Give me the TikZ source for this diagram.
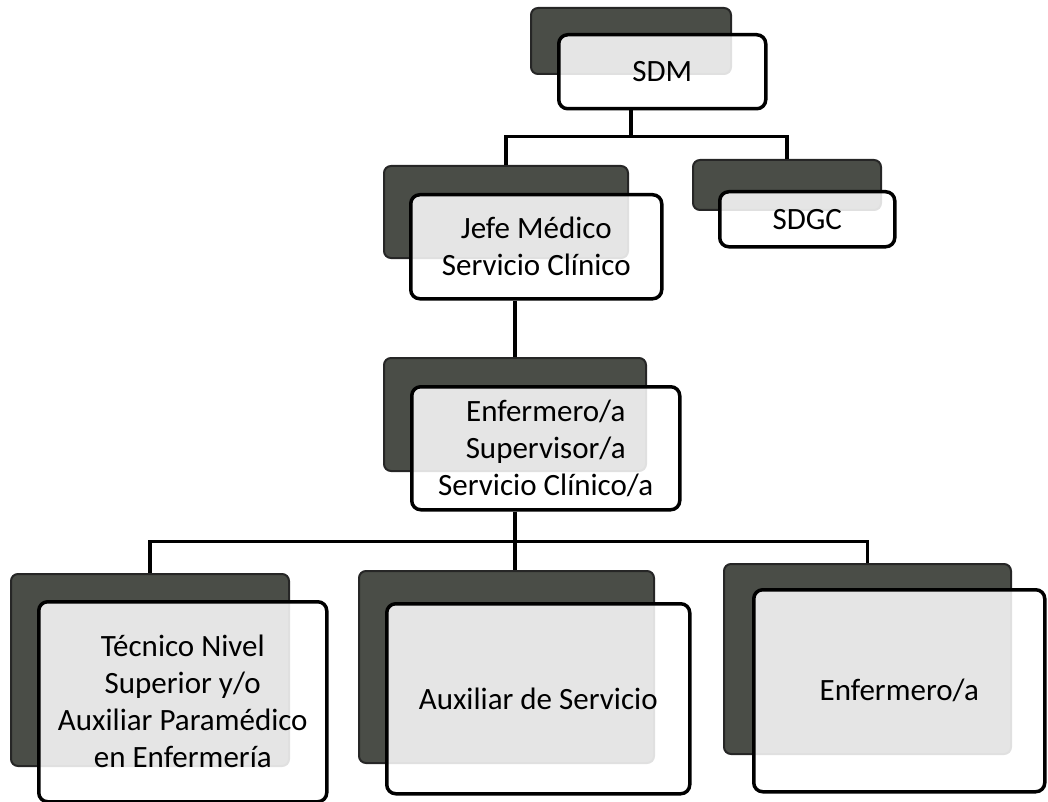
\documentclass[tikz,border=0pt]{standalone}
\usepackage{fontspec}
\setmainfont{Carlito}
\usepackage{tikz}
\definecolor{backgrey}{RGB}{74,77,71}
\begin{document}
\begin{tikzpicture}[x=1pt,y=-1pt,
   back/.style={draw=black!85,line width=2pt,fill=backgrey,rounded corners=7pt,inner sep=0pt,anchor=north west},
   front/.style={draw=black,line width=3.5pt,fill=white,fill opacity=0.86,text opacity=1,rounded corners=9pt,
      inner sep=0pt,anchor=north west,align=center,font=\fontsize{31}{37}\selectfont},
   link/.style={draw=black,line width=3.5pt}]
   \useasboundingbox (0,0) rectangle (1048,802);
   \node[back,minimum width=200,minimum height=66] (sdmb) at (530,7) {};
   \node[front,minimum width=207,minimum height=74] (sdm) at (557,33) {SDM};
   \node[back,minimum width=244,minimum height=92] (jefeb) at (383,165) {};
   \node[front,minimum width=251,minimum height=104] (jefe) at (409,193) {Jefe Médico\\Servicio Clínico};
   \node[back,minimum width=188,minimum height=50] (sdgcb) at (692,159) {};
   \node[front,minimum width=175,minimum height=55] (sdgc) at (718,190) {SDGC};
   \node[back,minimum width=262,minimum height=113] (supb) at (383,357) {};
   \node[front,minimum width=268,minimum height=123] (sup) at (410,385) {Enfermero/a\\Supervisor/a\\Servicio Clínico/a};
   \node[back,minimum width=278,minimum height=192] (tecb) at (10,573) {};
   \node[front,minimum width=288,minimum height=200] (tec) at (37,600) {Técnico Nivel\\Superior y/o\\Auxiliar Paramédico\\en Enfermería};
   \node[back,minimum width=295,minimum height=192] (auxb) at (358,570) {};
   \node[front,minimum width=303,minimum height=190] (aux) at (385,602) {Auxiliar de Servicio};
   \node[back,minimum width=287,minimum height=190] (enfb) at (723,563) {};
   \node[front,minimum width=291,minimum height=202] (enf) at (752,588) {Enfermero/a};
   \draw[link] (sdmb.center |- sdm.south) -- ++(0,26) -| (jefeb.north);
   \draw[link] (sdmb.center |- sdm.south) -- ++(0,26) -| (sdgcb.north);
   \draw[link] (supb.center |- jefe.south) -- (supb.north);
   \draw[link] (supb.center |- sup.south) -- ++(0,30) -| (tecb.north);
   \draw[link] (supb.center |- sup.south) -- ++(0,30) -| (enfb.north);
   \draw[link] (supb.center |- sup.south) -- (supb.center |- auxb.north);
\end{tikzpicture}
\end{document}
